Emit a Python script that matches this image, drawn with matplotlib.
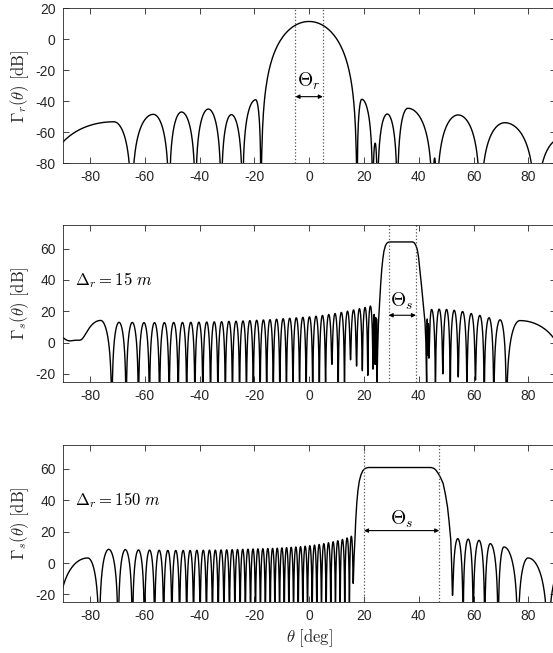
import numpy as np
import matplotlib
matplotlib.use("Agg")
import matplotlib.pyplot as plt

plt.rcParams["font.family"] = ["Liberation Sans", "DejaVu Sans"]
plt.rcParams["mathtext.fontset"] = "cm"
plt.rcParams["axes.unicode_minus"] = False

# ---- values ----
# each lobe sits between two nulls; peaks[i] is the lobe level in dB,
# tops = {lobe index: angle of the peak} where it is off-centre,
# depths = {null index: floor in dB} for nulls that do not go deep

# top panel, receive pattern Gamma_r
r_left_nulls = [-98.3, -64.8, -51.1, -41.5, -32.1, -24.3, -17.6]
r_left_peaks = [-53.2, -48.4, -46.9, -45.0, -48.6, -39.0]
r_left_tops = {0: -71.3, 1: -56.9, 2: -46.6, 3: -36.8, 4: -28.4, 5: -19.5}
r_main_nulls = [-17.6, 17.5]
r_main_peaks = [11.5]
r_right_nulls = [17.5, 23.2, 24.9, 32.2, 45.1, 46.5, 62.5, 82.7, 101.0]
r_right_peaks = [-38.7, -67.0, -48.2, -44.5, -76.6, -48.8, -53.8, -64.0]
r_right_tops = {0: 19.2, 1: 24.1, 2: 28.5, 3: 36.0, 4: 45.8, 5: 54.4, 6: 71.4, 7: 92.0}

# middle panel, Delta_r = 15 m
s15_left_nulls = [-99, -85, -72, -66.8, -62.3, -58.3, -54.6, -51.1, -47.8, -44.7,
                  -41.7, -38.8, -36.0, -33.3, -30.6, -28.0, -25.4, -22.9, -20.4, -17.9,
                  -15.5, -13.1, -10.7, -8.3, -5.9, -3.5, -1.1, 1.3, 3.7, 6.0,
                  8.3, 10.6, 12.9, 15.1, 17.3, 19.4, 21.4, 23.3, 24.1, 24.45, 24.75]
s15_left_peaks = [5.5, 14.1, 12.9, 12.8, 12.7, 12.7, 12.7, 12.8, 12.8, 12.9,
                  13.0, 13.1, 13.2, 13.3, 13.5, 13.6, 13.8, 14.0, 14.2, 14.4,
                  14.6, 14.9, 15.2, 15.5, 15.8, 16.1, 16.4, 16.8, 17.3, 17.9,
                  18.5, 19.2, 20.0, 20.8, 21.6, 22.4, 23.3, 18.0, 16.0, 15.0]
s15_left_tops = {0: -93.0, 1: -76.1}
s15_left_depths = {1: 1.5, 30: -14, 33: -11, 34: -15, 35: -18, 36: -21,
                   37: -17, 38: -14, 39: -8}
s15_beam_x = [24.75, 25.0, 25.3, 25.7, 26.1, 26.5, 26.9, 27.3, 27.8, 28.3, 28.9, 29.6,
              37.8, 38.4, 38.9, 39.4, 39.9, 40.4, 41.0, 41.6, 42.0, 42.3, 42.6, 42.9]
s15_beam_y = [-30, -5, 12.6, 25.4, 37.0, 46.6, 53.5, 58.3, 61.6, 63.3, 64.0, 64.2,
              64.2, 63.6, 62.2, 59.8, 55.0, 46.6, 36.5, 25.4, 18.5, 12.6, 0, -30]
s15_right_nulls = [42.9, 43.3, 43.7, 46.1, 48.8, 51.5, 54.4, 57.6, 60.7, 63.9, 67.4, 72.0, 96.0]
s15_right_peaks = [15.0, 12.0, 21.1, 21.3, 21.1, 20.6, 19.8, 18.5, 17.3, 15.8, 14.5, 14.0]
s15_right_tops = {2: 44.7, 11: 76.9}
s15_right_depths = {1: -8, 2: -10, 4: -20, 6: -22, 8: -24}

# bottom panel, Delta_r = 150 m
s150_left_nulls = [-92.5, -76.6, -69.7, -64.5, -60.1, -56.4, -53.1, -50.1, -47.3, -44.7,
                   -42.2, -39.8, -37.5, -35.3, -33.2, -31.1, -29.1, -27.1, -25.2, -23.3,
                   -21.4, -19.6, -17.8, -16.0, -14.2, -12.5, -10.8, -9.1, -7.4, -5.7,
                   -4.0, -2.3, -0.6, 1.1, 2.8, 4.5, 6.2, 7.9, 9.6, 11.3,
                   13.0, 14.7, 16.1]
s150_left_peaks = [3.2, 8.7, 8.5, 8.3, 8.2, 8.1, 8.0, 8.0, 8.0, 8.0,
                   8.1, 8.1, 8.2, 8.2, 8.3, 8.4, 8.5, 8.6, 8.7, 8.8,
                   8.9, 9.0, 9.1, 9.2, 9.3, 9.4, 9.6, 9.8, 10.0, 10.2,
                   10.4, 10.7, 11.0, 11.4, 11.8, 12.3, 12.9, 13.5, 14.2, 15.0,
                   15.9, 17.0]
s150_left_tops = {0: -80.8}
s150_left_depths = {42: -13}
s150_beam_x = [16.1, 16.4, 16.7, 17.0, 17.4, 17.8, 18.3, 18.9, 19.6, 20.5, 21.5,
               44.5, 45.5, 46.3, 47.1, 47.9, 48.9, 49.7, 50.5, 51.1, 51.7, 52.0, 52.3]
s150_beam_y = [-13, 4, 14.5, 27, 38.5, 46, 52, 56, 58.7, 60.2, 60.7,
               60.7, 60.2, 59, 57, 54.5, 50.6, 44, 35.7, 26, 14.5, 0, -20.6]
s150_right_nulls = [52.3, 56.2, 59.9, 64.1, 69.0, 76.2, 87.2, 100.0]
s150_right_peaks = [15.5, 15.2, 14.4, 12.3, 10.2, 3.2, -2.0]
s150_right_tops = {3: 66.1, 4: 71.1, 5: 79.9, 6: 93.0}
s150_right_depths = {0: -20.6}

xticks = [-80, -60, -40, -20, 0, 20, 40, 60, 80]


def lobes(nulls, peaks, tops=None, depths=None, n=2.0, k=120):
    tops = tops or {}
    depths = depths or {}
    xs, ys = [], []
    for i, p in enumerate(peaks):
        a, b = nulls[i], nulls[i + 1]
        c = tops.get(i, 0.5 * (a + b))
        x = np.linspace(a, b, k)
        t = np.where(x < c, 0.5 * (x - a) / (c - a), 0.5 + 0.5 * (x - c) / (b - c))
        pw = 10 ** (p / 10) * np.abs(np.sin(np.pi * t)) ** (2 * n)
        fl = np.where(x < c, 10 ** (depths.get(i, -100) / 10), 10 ** (depths.get(i + 1, -100) / 10))
        pw = pw + fl * np.cos(np.pi * t) ** 2
        xs.append(x)
        ys.append(10 * np.log10(pw + 1e-12))
    return np.concatenate(xs), np.concatenate(ys)


def style(ax, ylim, yticks):
    ax.set_xlim(-90, 90)
    ax.set_ylim(*ylim)
    ax.set_xticks(xticks)
    ax.set_yticks(yticks)
    ax.tick_params(direction="in", top=True, right=True, length=4, width=0.6,
                   labelsize=10, colors="#262626", pad=5)
    for s in ax.spines.values():
        s.set_linewidth(0.6)
        s.set_color("#262626")


def width_arrow(ax, x0, x1, y, label, ytxt):
    ax.axvline(x0, color="#555555", ls=":", lw=0.9)
    ax.axvline(x1, color="#555555", ls=":", lw=0.9)
    ax.annotate("", xy=(x1, y), xytext=(x0, y),
                arrowprops=dict(arrowstyle="<|-|>", color="k", lw=0.8,
                                shrinkA=0, shrinkB=0, mutation_scale=6))
    ax.text(0.5 * (x0 + x1), ytxt, label, ha="center", va="center", fontsize=14)


fig = plt.figure(figsize=(5.53, 6.53), dpi=100)
ax1 = fig.add_axes([0.1132, 0.7499, 0.8917, 0.2374])
ax2 = fig.add_axes([0.1132, 0.4155, 0.8917, 0.2399])
ax3 = fig.add_axes([0.1132, 0.0776, 0.8917, 0.2409])

# top: receive pattern
xl, yl = lobes(r_left_nulls, r_left_peaks, r_left_tops)
xm, ym = lobes(r_main_nulls, r_main_peaks, n=2.7)
xr, yr = lobes(r_right_nulls, r_right_peaks, r_right_tops)
ax1.plot(np.concatenate([xl, xm, xr]), np.concatenate([yl, ym, yr]), color="k", lw=1.0)
style(ax1, (-80, 20), [-80, -60, -40, -20, 0, 20])
width_arrow(ax1, -5, 5, -37, r"$\Theta_r$", -27)
ax1.set_ylabel(r"$\Gamma_r(\theta)\ [\mathrm{dB}]$", fontsize=12, color="#262626", labelpad=3)

# middle: 15 m
xl, yl = lobes(s15_left_nulls, s15_left_peaks, s15_left_tops, s15_left_depths)
xr, yr = lobes(s15_right_nulls, s15_right_peaks, s15_right_tops, s15_right_depths)
ax2.plot(np.concatenate([xl, s15_beam_x, xr]), np.concatenate([yl, s15_beam_y, yr]),
         color="k", lw=1.0)
style(ax2, (-25, 75), [-20, 0, 20, 40, 60])
width_arrow(ax2, 29, 39, 17.4, r"$\Theta_s$", 26.5)
ax2.text(-85.5, 40, r"$\Delta_r = 15\ m$", fontsize=12, va="center", ha="left")
ax2.set_ylabel(r"$\Gamma_s(\theta)\ [\mathrm{dB}]$", fontsize=12, color="#262626", labelpad=3)

# bottom: 150 m
xl, yl = lobes(s150_left_nulls, s150_left_peaks, s150_left_tops, s150_left_depths)
xr, yr = lobes(s150_right_nulls, s150_right_peaks, s150_right_tops, s150_right_depths)
ax3.plot(np.concatenate([xl, s150_beam_x, xr]), np.concatenate([yl, s150_beam_y, yr]),
         color="k", lw=1.0)
style(ax3, (-25, 75), [-20, 0, 20, 40, 60])
width_arrow(ax3, 20, 47.5, 20.6, r"$\Theta_s$", 28)
ax3.text(-85.5, 40, r"$\Delta_r = 150\ m$", fontsize=12, va="center", ha="left")
ax3.set_ylabel(r"$\Gamma_s(\theta)\ [\mathrm{dB}]$", fontsize=12, color="#262626", labelpad=3)
ax3.set_xlabel(r"$\theta\ [\mathrm{deg}]$", fontsize=12, color="#262626", labelpad=3)

fig.savefig("out.png", dpi=100)
